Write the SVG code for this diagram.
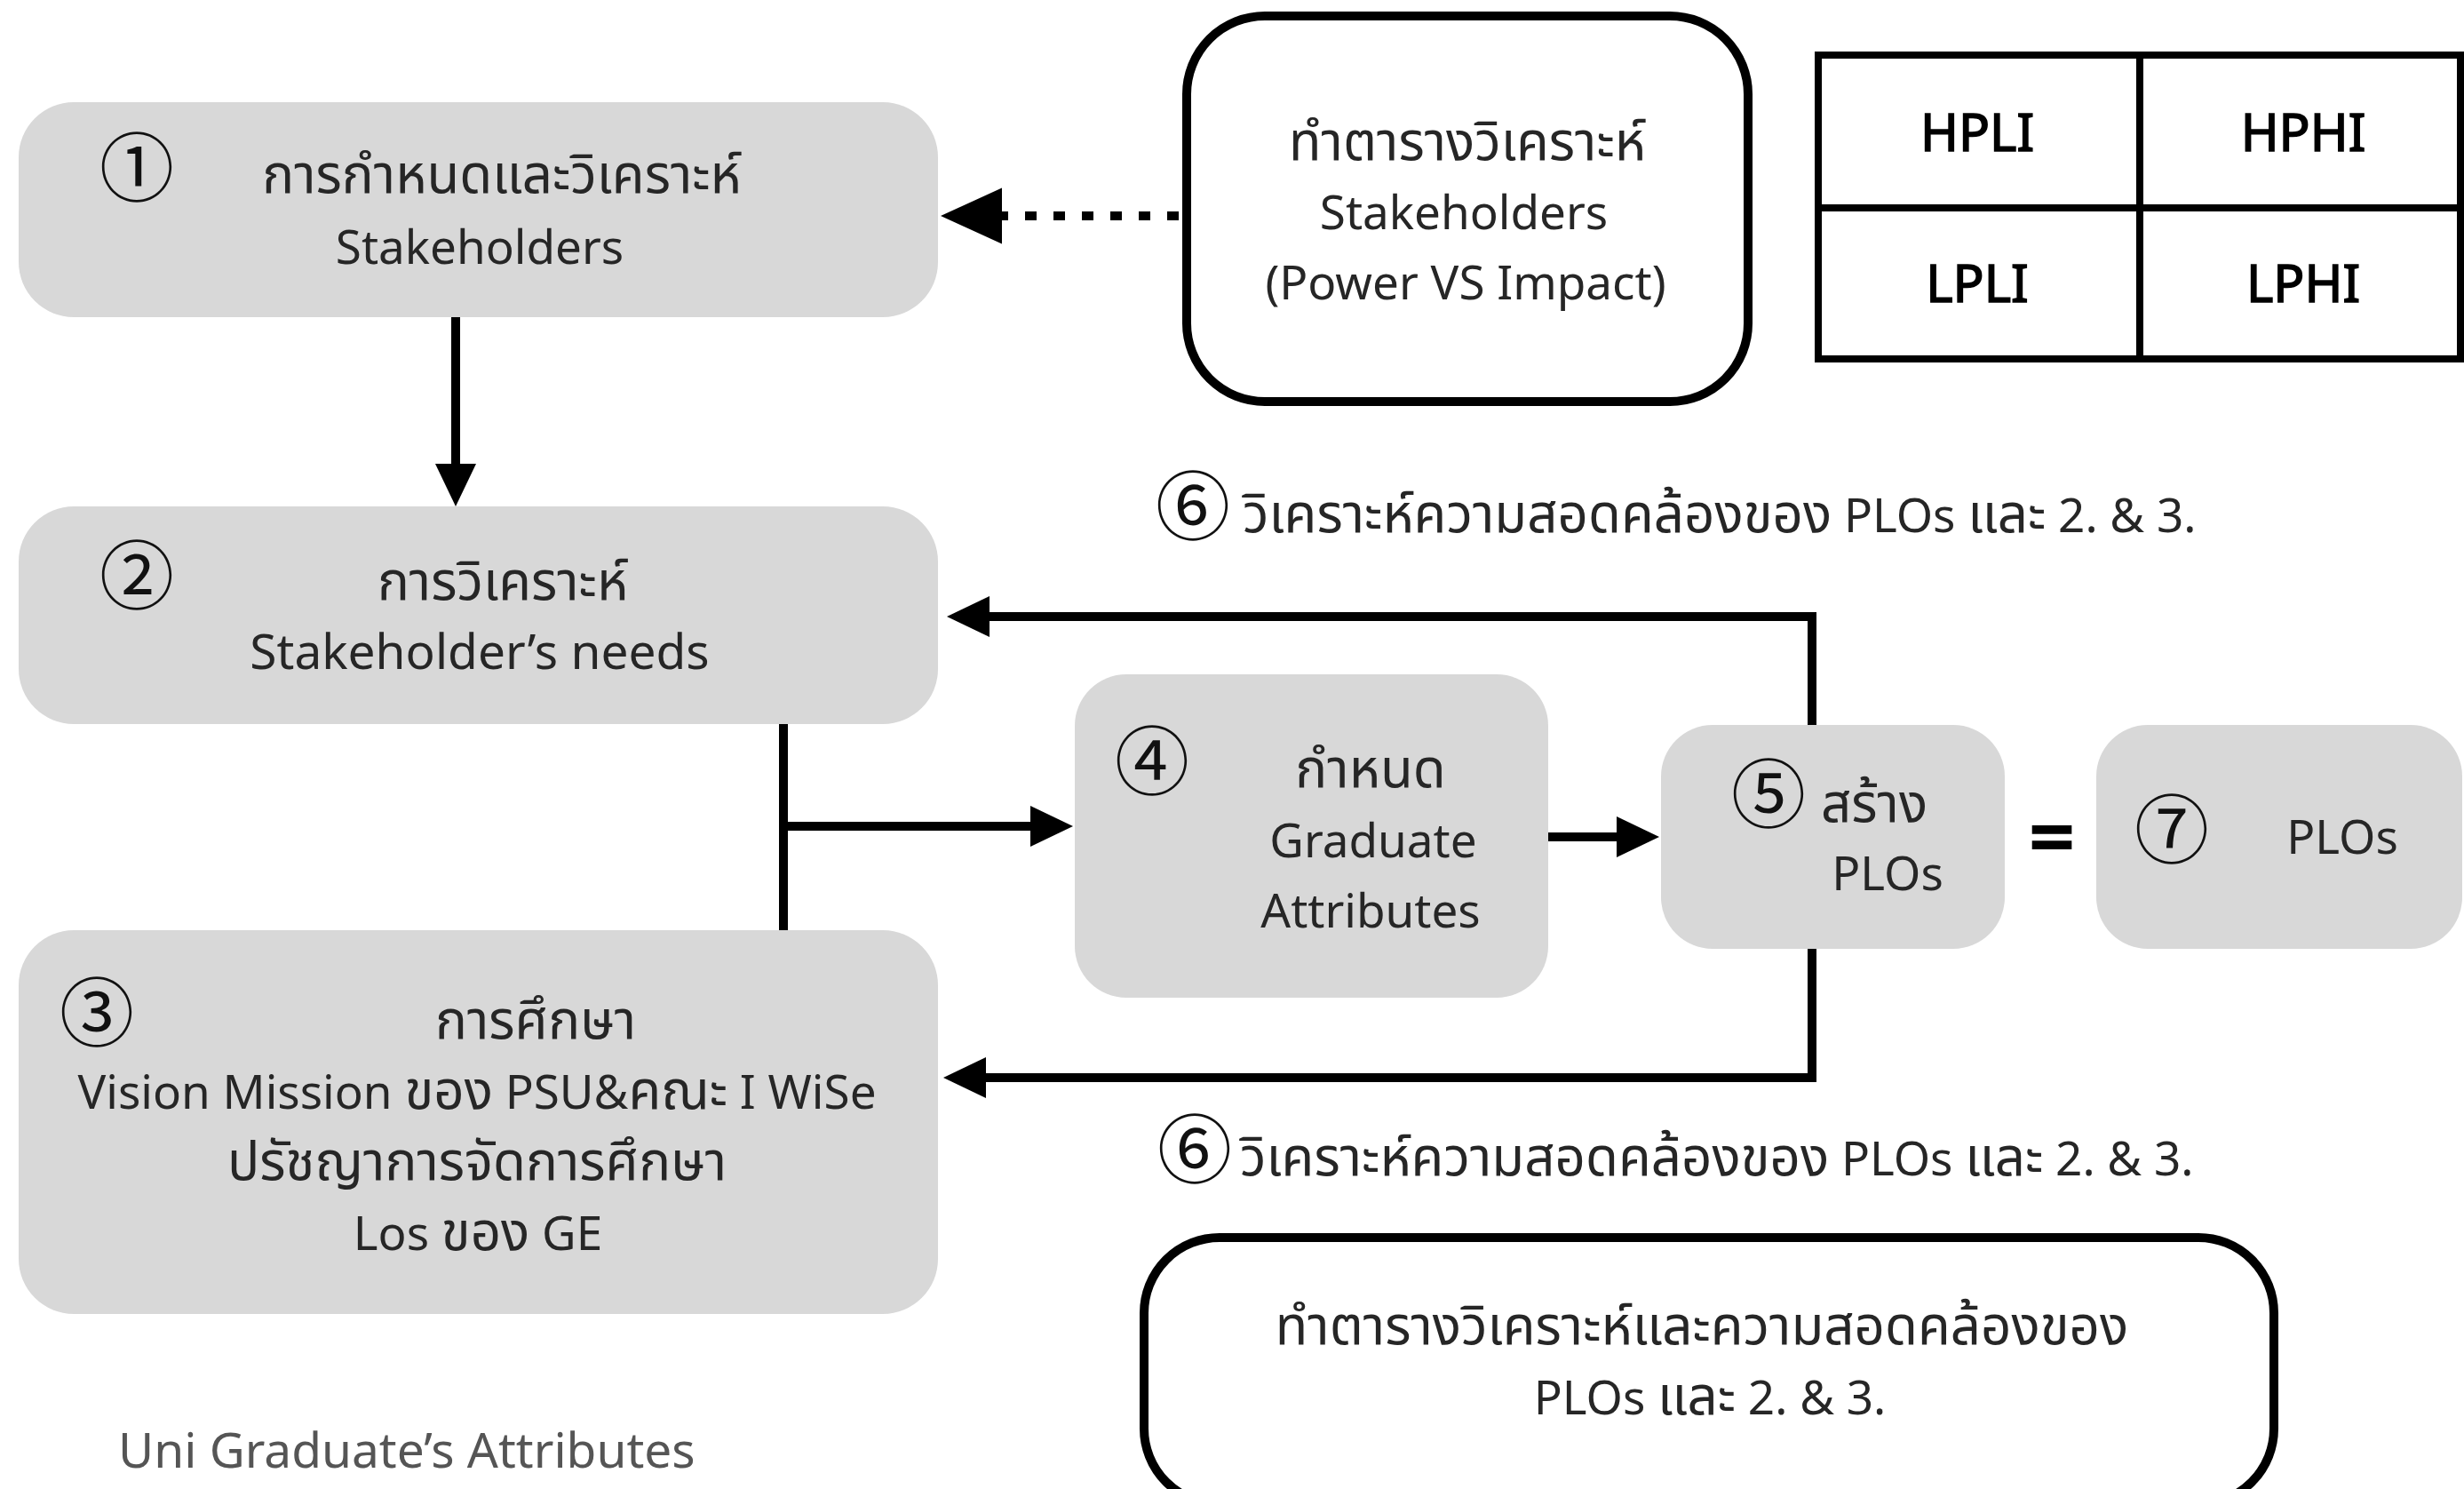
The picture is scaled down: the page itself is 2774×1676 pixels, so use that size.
<svg xmlns="http://www.w3.org/2000/svg" width="2774" height="1676" viewBox="0 0 2774 1676">
<defs>
<style>
.bg{fill:#ffffff}
.node{fill:#d8d8d8;stroke:none}
.wbox{fill:#ffffff;stroke:#000;stroke-width:10}
.t{font-family:"Noto Sans","Noto Sans Thai","Tahoma","DejaVu Sans",sans-serif;font-size:53px;fill:#262626;text-anchor:middle}
.th{font-size:60px}
.num{font-family:"Noto Sans CJK JP","DejaVu Sans",sans-serif;font-size:84px;fill:#111;text-anchor:middle}
.tb{font-family:"Noto Sans",sans-serif;font-size:58px;font-weight:400;fill:#000;stroke:#000;stroke-width:1.6;text-anchor:middle}
.conn{fill:none;stroke:#000;stroke-width:10}
.grid{fill:none;stroke:#000;stroke-width:8}
</style>
<marker id="ah" markerUnits="userSpaceOnUse" markerWidth="50" markerHeight="48" refX="0" refY="23" orient="auto"><path d="M0,0 L48,23 L0,46 z" fill="#000"/></marker>
<marker id="ahd" markerUnits="userSpaceOnUse" markerWidth="70" markerHeight="64" refX="0" refY="31.5" orient="auto"><path d="M0,0 L69,31.5 L0,63 z" fill="#000"/></marker>
</defs>
<rect class="bg" x="0" y="0" width="2774" height="1676"/>

<g id="connectors">
<path class="conn" d="M1327,243 H1128" stroke-width="13" stroke-dasharray="13 19" marker-end="url(#ahd)"/>
<path class="conn" d="M513,357 V522" marker-end="url(#ah)"/>
<path class="conn" d="M882,814 V1047"/>
<path class="conn" d="M882,930 H1160" marker-end="url(#ah)"/>
<path class="conn" d="M1743,942 H1820" marker-end="url(#ah)"/>
<path class="conn" d="M2040,817 V694 H1114" marker-end="url(#ah)"/>
<path class="conn" d="M2040,1067 V1213 H1110" marker-end="url(#ah)"/>
</g>

<g id="node1">
<rect class="node" x="21" y="115" width="1035" height="242" rx="62"/>
<text class="num" x="154" y="220">①</text>
<text class="t th" x="565" y="217">การกำหนดและวิเคราะห์</text>
<text class="t" x="540" y="297">Stakeholders</text>
</g>

<g id="node-power">
<rect class="wbox" x="1336" y="18" width="632" height="434" rx="88"/>
<text class="t th" x="1652" y="180">ทำตารางวิเคราะห์</text>
<text class="t" x="1648" y="258">Stakeholders</text>
<text class="t" x="1650" y="337">(Power VS Impact)</text>
</g>

<g id="node-table">
<rect class="grid" x="2047" y="62" width="723" height="342"/>
<line class="grid" x1="2409" y1="62" x2="2409" y2="404"/>
<line class="grid" x1="2047" y1="234" x2="2770" y2="234"/>
<text class="tb" x="2226" y="170">HPLI</text>
<text class="tb" x="2593" y="170">HPHI</text>
<text class="tb" x="2226" y="340">LPLI</text>
<text class="tb" x="2593" y="340">LPHI</text>
</g>

<g id="node2">
<rect class="node" x="21" y="570" width="1035" height="245" rx="62"/>
<text class="num" x="154" y="679">②</text>
<text class="t th" x="566" y="675">การวิเคราะห์</text>
<text class="t" x="540" y="753" style="font-size:55px">Stakeholder’s needs</text>
</g>

<g id="label6-top">
<text class="t" x="1399" y="599" style="text-anchor:start"><tspan class="num" x="1343" y="601" style="text-anchor:middle">⑥</tspan><tspan class="th" x="1399" y="599">วิเคราะห์ความสอดคล้องของ</tspan> PLOs <tspan class="th">และ</tspan> 2. &amp; 3.</text>
</g>

<g id="node3">
<rect class="node" x="21" y="1047" width="1035" height="432" rx="62"/>
<text class="num" x="109" y="1171">③</text>
<text class="t th" x="603" y="1169">การศึกษา</text>
<text class="t" x="537" y="1248">Vision Mission <tspan class="th">ของ</tspan> PSU&amp;<tspan class="th">คณะ</tspan> I WiSe</text>
<text class="t th" x="537" y="1328">ปรัชญาการจัดการศึกษา</text>
<text class="t" x="538" y="1407">Los <tspan class="th">ของ</tspan> GE</text>
</g>

<g id="node4">
<rect class="node" x="1210" y="759" width="533" height="364" rx="58"/>
<text class="num" x="1297" y="888">④</text>
<text class="t th" x="1543" y="886">กำหนด</text>
<text class="t" x="1546" y="965">Graduate</text>
<text class="t" x="1543" y="1044">Attributes</text>
</g>

<g id="node5">
<rect class="node" x="1870" y="816" width="387" height="252" rx="58"/>
<text class="num" x="1991" y="925">⑤</text>
<text class="t th" x="2050" y="925" style="text-anchor:start">สร้าง</text>
<text class="t" x="2125" y="1002">PLOs</text>
</g>

<text id="equals" x="2310" y="975" style="font-family:'Noto Sans',sans-serif;font-size:92px;font-weight:700;fill:#000;text-anchor:middle">=</text>

<g id="node7">
<rect class="node" x="2360" y="816" width="412" height="252" rx="58"/>
<text class="num" x="2445" y="965">⑦</text>
<text class="t" x="2637" y="961">PLOs</text>
</g>

<g id="label6-bottom">
<text class="t" x="1396" y="1323" style="text-anchor:start"><tspan class="num" x="1345" y="1325" style="text-anchor:middle">⑥</tspan><tspan class="th" x="1396" y="1323">วิเคราะห์ความสอดคล้องของ</tspan> PLOs <tspan class="th">และ</tspan> 2. &amp; 3.</text>
</g>

<g id="node-bottom">
<rect class="wbox" x="1288" y="1393" width="1272" height="300" rx="85"/>
<text class="t th" x="1916" y="1513">ทำตารางวิเคราะห์และความสอดคล้องของ</text>
<text class="t" x="1925" y="1592">PLOs <tspan class="th">และ</tspan> 2. &amp; 3.</text>
</g>

<text id="uni-label" class="t" x="133" y="1652" style="text-anchor:start;fill:#555;font-size:55px">Uni Graduate’s Attributes</text>
</svg>
